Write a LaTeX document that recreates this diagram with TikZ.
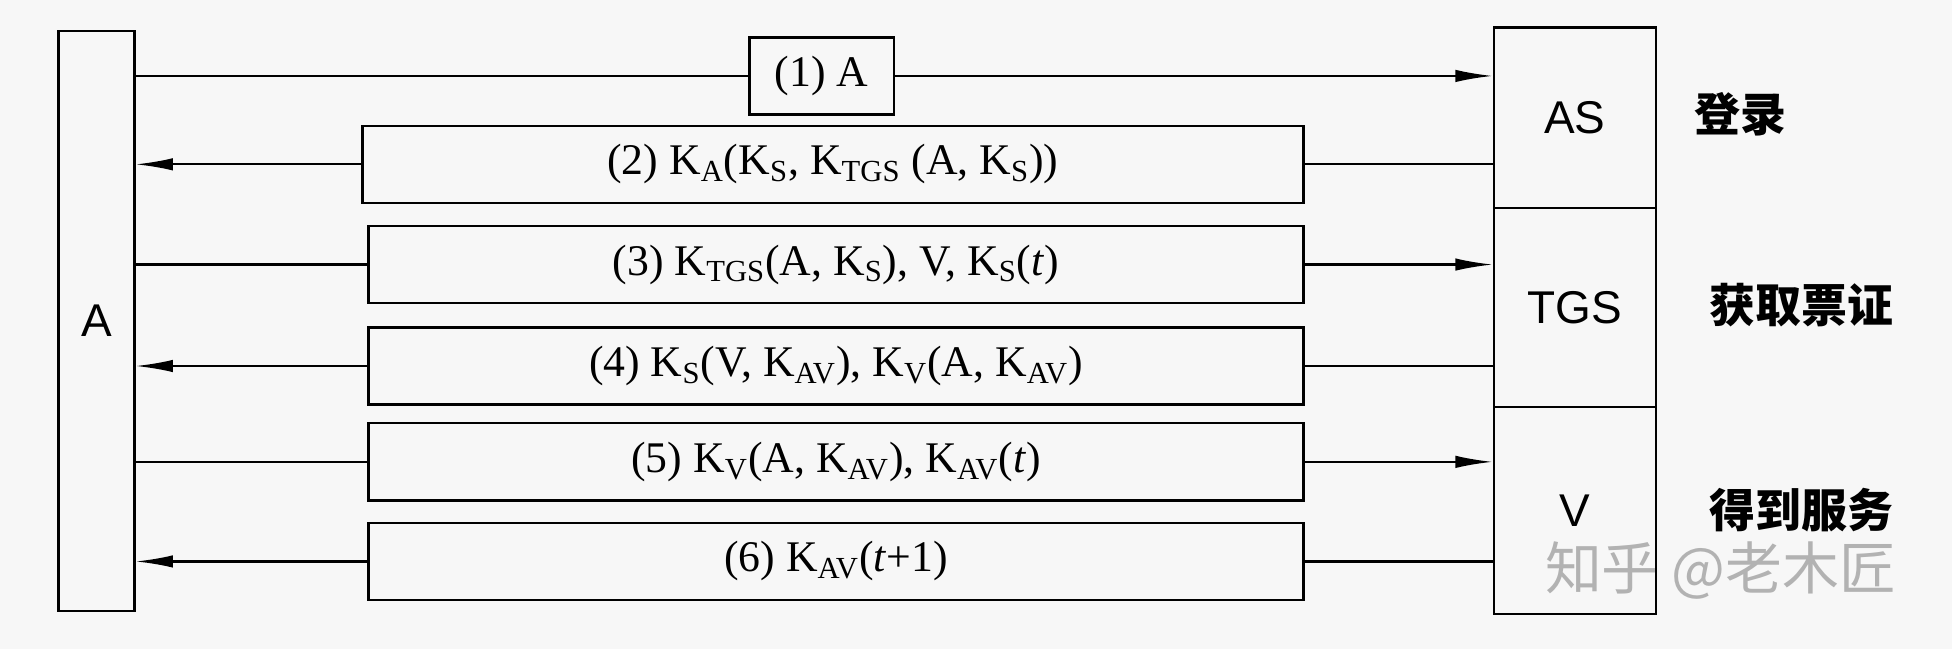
\documentclass[tikz,border=0pt]{standalone}
\usepackage{fontspec}
\setmainfont{Liberation Serif}
\newfontfamily\labelfont{Liberation Sans}
\newfontfamily\cjk{Noto Sans CJK SC}
\usetikzlibrary{arrows.meta}
\tikzset{
	msgbox/.style={draw,line width=1.1pt,minimum height=1.24cm,inner sep=0pt,font=\fontsize{20}{22}\selectfont},
	party/.style={draw,line width=1.1pt,inner sep=0pt,font=\labelfont\fontsize{21}{24}\selectfont},
	stage/.style={font=\cjk\bfseries\fontsize{21}{24}\selectfont},
	wire/.style={line width=1pt},
	tip/.style={wire,-{Latex[length=6mm,width=2mm]}},
}
\newcommand{\kk}[1]{K\textsubscript{#1}}
\begin{document}
\begin{tikzpicture}[x=0.02cm,y=-0.02cm]
	\fill[black!3] (0,0) rectangle (1568,521);
	\useasboundingbox (0,0) rectangle (1568,521);
	\node[party,minimum width=1.22cm,minimum height=9.32cm](A) at (77.5,258){A};
	\node[party,minimum width=2.6cm,minimum height=2.9cm](AS) at (1265,94.5){AS};
	\node[party,minimum width=2.6cm,minimum height=3.2cm](TGS) at (1265,247){TGS};
	\node[party,minimum width=2.6cm,minimum height=3.32cm](V) at (1265,410){V};
	\node[stage](login) at (1398,92){登录};
	\node[stage](ticket) at (1447,245){获取票证};
	\node[stage](service) at (1447,410){得到服务};
	\node[text=black!30,font=\cjk\fontsize{26}{28}\selectfont](mark) at (1382,458){知乎 @老木匠};
	\node[msgbox,minimum width=2.32cm](m1) at (660,61){(1) A};
	\node[msgbox,minimum width=15.12cm](m2) at (669,132){(2) \kk{A}(\kk{S}, \kk{TGS} (A, \kk{S}))};
	\node[msgbox,minimum width=15.02cm](m3) at (671.5,212.5){(3) \kk{TGS}(A, \kk{S}), V, \kk{S}(\textit{t})};
	\node[msgbox,minimum width=15.02cm](m4) at (671.5,294){(4) \kk{S}(V, \kk{AV}), \kk{V}(A, \kk{AV})};
	\node[msgbox,minimum width=15.02cm](m5) at (671.5,371){(5) \kk{V}(A, \kk{AV}), \kk{AV}(\textit{t})};
	\node[msgbox,minimum width=15.02cm](m6) at (671.5,451){(6) \kk{AV}(\textit{t}+1)};
	\draw[wire] (A.east |- m1.west)--(m1.west);
	\draw[tip] (m1.east)--(AS.west |- m1.east);
	\draw[tip] (m2.west)--(A.east |- m2.west);
	\draw[wire] (m2.east)--(AS.west |- m2.east);
	\draw[wire] (A.east |- m3.west)--(m3.west);
	\draw[tip] (m3.east)--(TGS.west |- m3.east);
	\draw[tip] (m4.west)--(A.east |- m4.west);
	\draw[wire] (m4.east)--(TGS.west |- m4.east);
	\draw[wire] (A.east |- m5.west)--(m5.west);
	\draw[tip] (m5.east)--(V.west |- m5.east);
	\draw[tip] (m6.west)--(A.east |- m6.west);
	\draw[wire] (m6.east)--(V.west |- m6.east);
\end{tikzpicture}
\end{document}
